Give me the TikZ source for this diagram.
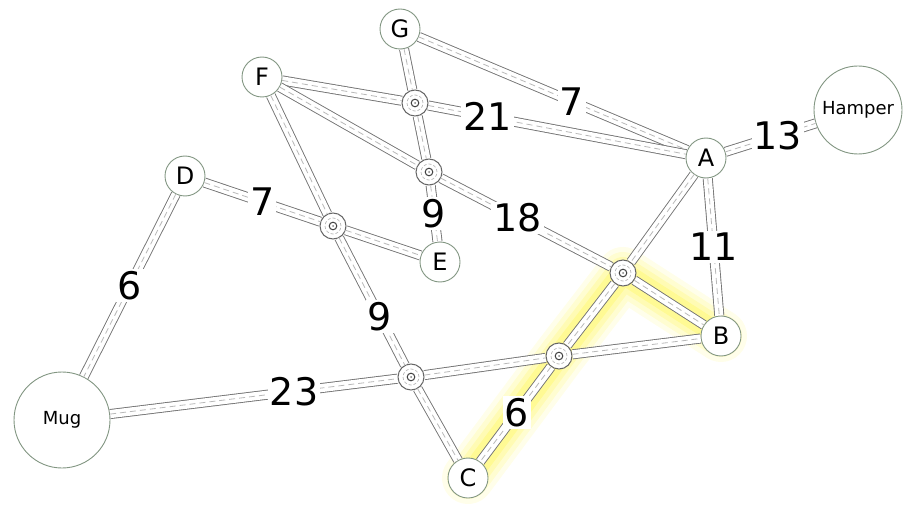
\documentclass[tikz,border=0pt]{standalone}
\usepackage{fontspec}
\setmainfont{DejaVu Sans}
\usepackage{tikz}
\usetikzlibrary{positioning, backgrounds}
\definecolor{rim}{RGB}{130,150,130}
\tikzset{
    place/.style={circle, draw=rim, line width=0.9pt, fill=white, minimum size=40pt, inner sep=0pt, font=\fontsize{24}{26}\selectfont},
    bigplace/.style={place, font=\fontsize{18}{20}\selectfont},
    junction/.style={circle, draw=black!60, line width=1pt, fill=white, minimum size=26pt, inner sep=0pt,
        path picture={
            \draw[gray!55, densely dashed, line width=0.7pt] (path picture bounding box.center) circle (8pt);
            \draw[black!75, line width=1pt] (path picture bounding box.center) circle (3.8pt);
            \fill[gray] (path picture bounding box.center) circle (1pt);
        }},
    road/.style={draw=gray!55, line width=0.8pt, dash pattern=on 6pt off 4pt,
        preaction={draw=black!55, solid, line width=10pt},
        preaction={draw=white, solid, line width=8.2pt}},
    num/.style={fill=white, inner sep=2pt, font=\fontsize{38}{40}\selectfont},
    glow/.style={draw=yellow!80!white, line cap=round, line join=round}
}
\begin{document}
\begin{tikzpicture}[x=1pt, y=-1pt]
    \useasboundingbox (0,0) rectangle (910,505);

    % places
    \node[place] (G) at (400,29) {G};
    \node[place] (F) at (262,77) {F};
    \node[place] (D) at (185,176) {D};
    \node[place] (E) at (440,262) {E};
    \node[place] (A) at (706,158) {A};
    \node[place] (B) at (721,336) {B};
    \node[place] (C) at (468,478) {C};
    \node[bigplace, minimum size=88pt] (Hamper) at (858,110) {Hamper};
    \node[bigplace, minimum size=96pt] (Mug) at (62,420) {Mug};

    % junctions
    \node[junction] (J1) at (415,103) {};
    \node[junction] (J2) at (429,172) {};
    \node[junction] (J3) at (333,226) {};
    \node[junction] (J4) at (623,273) {};
    \node[junction] (J5) at (559,356) {};
    \node[junction] (J6) at (411,377) {};

    % highlighted route
    \begin{pgfonlayer}{background}
        \draw[glow, line width=52pt, opacity=0.1] (C.center) -- (J5.center) -- (J4.center) -- (B.center);
        \draw[glow, line width=42pt, opacity=0.14] (C.center) -- (J5.center) -- (J4.center) -- (B.center);
        \draw[glow, line width=32pt, opacity=0.18] (C.center) -- (J5.center) -- (J4.center) -- (B.center);
        \draw[glow, line width=22pt, opacity=0.25] (C.center) -- (J5.center) -- (J4.center) -- (B.center);
    \end{pgfonlayer}

    % roads
    \draw[road] (G) -- (J1) -- (J2) -- node[num] {9} (E);
    \draw[road] (G) -- node[num, pos=0.57] {7} (A);
    \draw[road] (F) -- (J1) -- node[num, pos=0.23] {21} (A);
    \draw[road] (F) -- (J2) -- node[num, pos=0.45] {18} (J4) -- (B);
    \draw[road] (A) -- (J4) -- (J5) -- node[num, pos=0.48] {6} (C);
    \draw[road] (A) -- node[num] {11} (B);
    \draw[road] (A) -- node[num, pos=0.58] {13} (Hamper);
    \draw[road] (D) -- node[num] {7} (J3) -- (E);
    \draw[road] (F) -- (J3) -- node[num, pos=0.62] {9} (J6) -- (C);
    \draw[road] (Mug) -- node[num, pos=0.64] {23} (J6) -- (J5) -- (B);
    \draw[road] (D) -- node[num] {6} (Mug);
\end{tikzpicture}
\end{document}
